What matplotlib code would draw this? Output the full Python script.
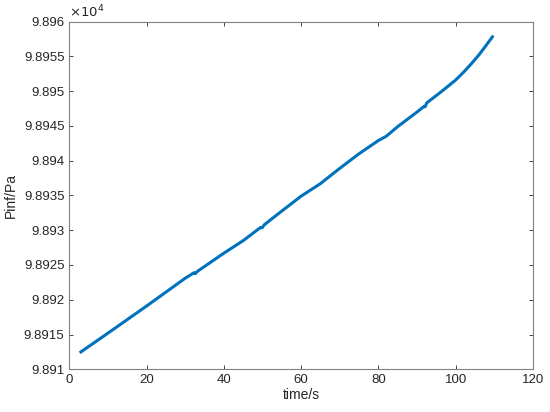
import matplotlib
matplotlib.use('Agg')
from matplotlib import pyplot as plt
from matplotlib.ticker import FuncFormatter, MultipleLocator


# time (s) and far-field pressure (Pa)
time_s = [3, 10, 20, 30, 32.3, 32.6, 33.2, 40, 45, 49.5, 49.9, 50.5, 54.4,
          60, 65, 70, 75, 80, 82, 85, 90, 91.8, 92.1, 92.5, 96, 98, 100,
          102, 104, 106, 107.5, 109.5]
pinf_pa = [98912.5, 98915.2, 98919.1, 98923.1, 98923.9, 98923.75, 98924.1,
           98926.7, 98928.5, 98930.4, 98930.35, 98930.8, 98932.5, 98934.9,
           98936.7, 98938.9, 98941.0, 98942.9, 98943.5, 98944.9, 98947.0,
           98947.8, 98947.75, 98948.3, 98949.8, 98950.7, 98951.6, 98952.7,
           98953.9, 98955.2, 98956.3, 98957.8]

plt.rcParams['font.family'] = ['Liberation Sans', 'DejaVu Sans']
text_color = '#262626'
axis_color = '#262626'

fig = plt.figure(figsize=(5.5, 4.12), dpi=100)
ax = fig.add_axes([0.126, 0.1036, 0.843, 0.844])

ax.plot(time_s, pinf_pa, color='#0072BD', lw=2.2)

ax.set_xlim(0, 120)
ax.set_ylim(98910, 98960)
ax.xaxis.set_major_locator(MultipleLocator(20))
ax.yaxis.set_major_locator(MultipleLocator(5))
ax.yaxis.set_major_formatter(FuncFormatter(lambda v, pos: '%g' % round(v / 1e4, 5)))

ax.tick_params(direction='in', top=True, right=True, labelsize=9.5,
               colors=axis_color, labelcolor=text_color, length=3, width=0.6)
for s in ax.spines.values():
    s.set_color('#808080')
    s.set_linewidth(0.8)

ax.set_xlabel('time/s', fontsize=10, color=text_color, labelpad=1)
ax.set_ylabel('Pinf/Pa', fontsize=10, color=text_color, labelpad=4)
ax.text(0.0, 1.003, r'$\times10^4$', transform=ax.transAxes, fontsize=9.5,
        color=text_color, ha='left', va='bottom')

fig.savefig('out.png', dpi=100)
